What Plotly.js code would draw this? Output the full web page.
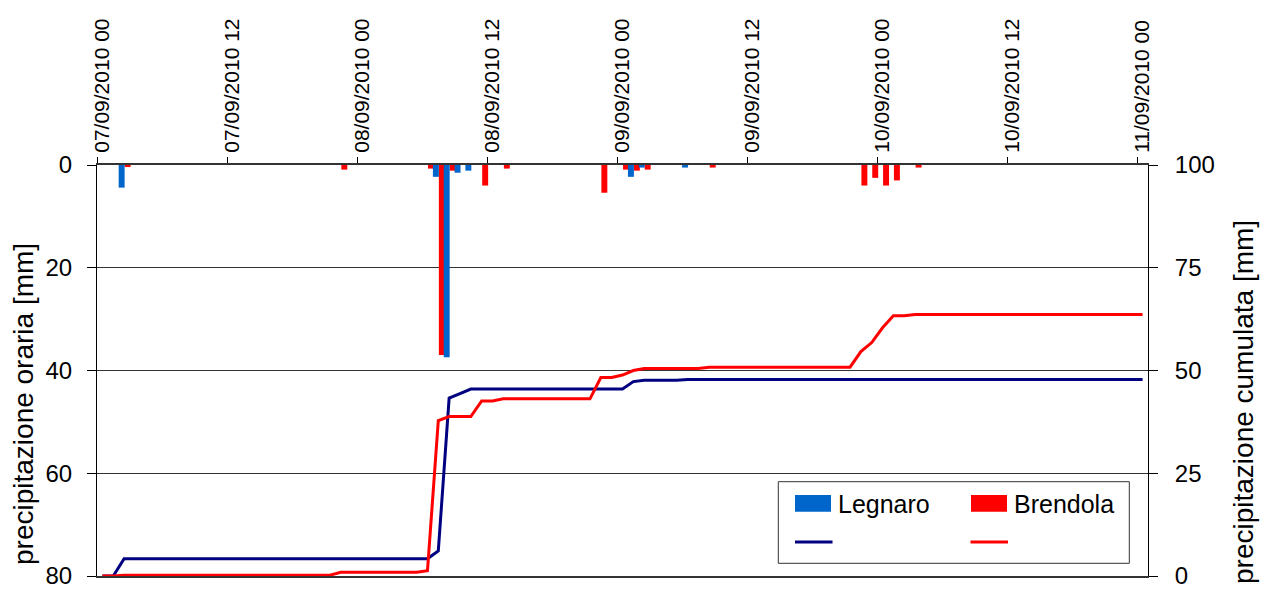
<!DOCTYPE html>
<html><head><meta charset="utf-8">
<script src="https://cdn.plot.ly/plotly-3.0.1.min.js"></script>
<style>html,body{margin:0;padding:0;background:#fff}#chart{width:1267px;height:590px}</style>
</head><body><div id="chart"></div>
<script>
// hourly slots, 0 = 07/09/2010 00
const tickHours = [0, 12, 24, 36, 48, 60, 72, 84, 96];
const tickLabels = ["07/09/2010 00", "07/09/2010 12", "08/09/2010 00", "08/09/2010 12",
  "09/09/2010 00", "09/09/2010 12", "10/09/2010 00", "10/09/2010 12", "11/09/2010 00"];

// hourly precipitation (only non-zero hours)
const legnaroHours = [2, 31, 32, 33, 34, 49, 50, 54];
const legnaroRain  = [4.4, 2.3, 37.4, 1.5, 1.1, 2.3, 0.5, 0.5];
const brendolaHours = [2, 22, 30, 31, 32, 35, 37, 46, 48, 49, 50, 56, 70, 71, 72, 73, 75];
const brendolaRain  = [0.4, 0.9, 0.7, 37.0, 1.1, 4.0, 0.7, 5.4, 0.9, 1.1, 0.9, 0.5, 4.0, 2.5, 4.0, 3.0, 0.5];

// cumulative precipitation, one value per hour slot 0..96
const legnaroCum = [0, 0,
  4.2, 4.2, 4.2, 4.2, 4.2, 4.2, 4.2, 4.2, 4.2, 4.2, 4.2, 4.2, 4.2, 4.2, 4.2, 4.2, 4.2, 4.2, 4.2, 4.2,
  4.2, 4.2, 4.2, 4.2, 4.2, 4.2, 4.2, 4.2, 4.2,
  6.1, 43.3, 44.4,
  45.5, 45.5, 45.5, 45.5, 45.5, 45.5, 45.5, 45.5, 45.5, 45.5, 45.5, 45.5, 45.5, 45.5, 45.5,
  47.3, 47.6, 47.6, 47.6, 47.6,
  47.8, 47.8, 47.8, 47.8, 47.8, 47.8, 47.8, 47.8, 47.8, 47.8, 47.8, 47.8, 47.8, 47.8, 47.8,
  47.8, 47.8, 47.8, 47.8, 47.8, 47.8, 47.8, 47.8, 47.8, 47.8, 47.8, 47.8, 47.8, 47.8, 47.8,
  47.8, 47.8, 47.8, 47.8, 47.8, 47.8, 47.8, 47.8, 47.8, 47.8, 47.8, 47.8, 47.8];
const brendolaCum = [0, 0,
  0.2, 0.2, 0.2, 0.2, 0.2, 0.2, 0.2, 0.2, 0.2, 0.2, 0.2, 0.2, 0.2, 0.2, 0.2, 0.2, 0.2, 0.2, 0.2, 0.2,
  0.9, 0.9, 0.9, 0.9, 0.9, 0.9, 0.9, 0.9,
  1.3, 37.8, 38.8, 38.8, 38.8, 42.6, 42.6,
  43.1, 43.1, 43.1, 43.1, 43.1, 43.1, 43.1, 43.1, 43.1,
  48.3, 48.3, 48.9, 50.0,
  50.5, 50.5, 50.5, 50.5, 50.5, 50.5,
  50.8, 50.8, 50.8, 50.8, 50.8, 50.8, 50.8, 50.8, 50.8, 50.8, 50.8, 50.8, 50.8, 50.8,
  54.6, 56.8, 60.4, 63.3, 63.3,
  63.6, 63.6, 63.6, 63.6, 63.6, 63.6, 63.6, 63.6, 63.6, 63.6, 63.6,
  63.6, 63.6, 63.6, 63.6, 63.6, 63.6, 63.6, 63.6, 63.6, 63.6, 63.6];

const slots = legnaroCum.map((v, i) => i);
const slotCentres = slots.map(s => s + 0.5);

const FONT = 'Arial, "Liberation Sans", sans-serif';
const BLUE_BAR = '#0066CC', RED = '#FF0000', NAVY = '#000080';

const traces = [
  {type: 'bar', name: 'Brendola', x: brendolaHours, y: brendolaRain, width: 0.55, offset: 0.55,
   marker: {color: RED, line: {width: 0}}, yaxis: 'y', xaxis: 'x'},
  {type: 'bar', name: 'Legnaro', x: legnaroHours, y: legnaroRain, width: 0.55, offset: 0,
   marker: {color: BLUE_BAR, line: {width: 0}}, yaxis: 'y', xaxis: 'x'},
  {type: 'scatter', mode: 'lines', name: 'Legnaro cum', x: slotCentres, y: legnaroCum,
   line: {color: NAVY, width: 3}, yaxis: 'y2', xaxis: 'x'},
  {type: 'scatter', mode: 'lines', name: 'Brendola cum', x: slotCentres, y: brendolaCum,
   line: {color: RED, width: 3}, yaxis: 'y2', xaxis: 'x'}
];

const P = {l: 97, r: 1148, t: 165, b: 576};
const px = x => (x - P.l) / (P.r - P.l);
const py = y => (P.b - y) / (P.b - P.t);

const layout = {
  width: 1267, height: 590,
  margin: {l: 97, r: 119, t: 165, b: 14, pad: 0},
  paper_bgcolor: '#fff', plot_bgcolor: '#fff',
  font: {family: FONT, color: '#000'},
  showlegend: false, hovermode: false,
  barmode: 'overlay',
  xaxis: {range: [0, 97], side: 'top', tickmode: 'array', tickvals: tickHours, ticktext: tickLabels,
    tickangle: -90, ticks: 'outside', ticklen: 6, tickcolor: '#000', tickwidth: 1,
    showline: true, linecolor: '#333', linewidth: 2, mirror: true, ticklabeloverflow: 'allow',
    showgrid: false, zeroline: false, tickfont: {size: 21, family: FONT}, ticklabelshift: 5},
  yaxis: {range: [80, 0], tickmode: 'array', tickvals: [0, 20, 40, 60, 80],
    ticks: 'outside', ticklen: 9, tickcolor: '#000', showline: true, linecolor: '#000', linewidth: 1,
    showgrid: true, gridcolor: '#333', gridwidth: 1, zeroline: false, ticklabeloverflow: 'allow',
    tickfont: {size: 24, family: FONT}, ticklabelstandoff: 10},
  yaxis2: {range: [0, 100], overlaying: 'y', side: 'right', tickmode: 'array', tickvals: [0, 25, 50, 75, 100],
    ticks: 'outside', ticklen: 9, tickcolor: '#000', showline: true, linecolor: '#000', linewidth: 1,
    showgrid: false, zeroline: false, ticklabeloverflow: 'allow',
    tickfont: {size: 24, family: FONT}, ticklabelstandoff: 12},
  shapes: [
    {type: 'rect', xref: 'paper', yref: 'paper', x0: px(778.3), x1: px(1129.3), y0: py(563.3), y1: py(481.7),
     line: {color: '#333', width: 1}, fillcolor: '#fff', layer: 'above'},
    {type: 'rect', xref: 'paper', yref: 'paper', x0: px(795), x1: px(831), y0: py(511.7), y1: py(495),
     line: {width: 0}, fillcolor: BLUE_BAR, layer: 'above'},
    {type: 'rect', xref: 'paper', yref: 'paper', x0: px(971), x1: px(1007), y0: py(511.7), y1: py(495),
     line: {width: 0}, fillcolor: RED, layer: 'above'},
    {type: 'line', xref: 'paper', yref: 'paper', x0: px(795), x1: px(832.5), y0: py(542), y1: py(542),
     line: {color: NAVY, width: 3}, layer: 'above'},
    {type: 'line', xref: 'paper', yref: 'paper', x0: px(970.5), x1: px(1008), y0: py(542), y1: py(542),
     line: {color: RED, width: 3}, layer: 'above'}
  ],
  annotations: [
    {text: 'Legnaro', xref: 'paper', yref: 'paper', x: px(836), y: py(503.5), xanchor: 'left', yanchor: 'middle',
     showarrow: false, font: {size: 25, family: FONT, color: '#000'}},
    {text: 'Brendola', xref: 'paper', yref: 'paper', x: px(1012), y: py(503.5), xanchor: 'left', yanchor: 'middle',
     showarrow: false, font: {size: 25, family: FONT, color: '#000'}},
    {text: 'precipitazione oraria [mm]', xref: 'paper', yref: 'paper', x: px(23), y: py(404),
     xanchor: 'center', yanchor: 'middle', textangle: -90, showarrow: false,
     font: {size: 28, family: FONT, color: '#000'}},
    {text: 'precipitazione cumulata [mm]', xref: 'paper', yref: 'paper', x: px(1243), y: py(402),
     xanchor: 'center', yanchor: 'middle', textangle: -90, showarrow: false,
     font: {size: 28, family: FONT, color: '#000'}}
  ]
};

Plotly.newPlot('chart', traces, layout, {displayModeBar: false, staticPlot: true});
</script>
</body></html>
